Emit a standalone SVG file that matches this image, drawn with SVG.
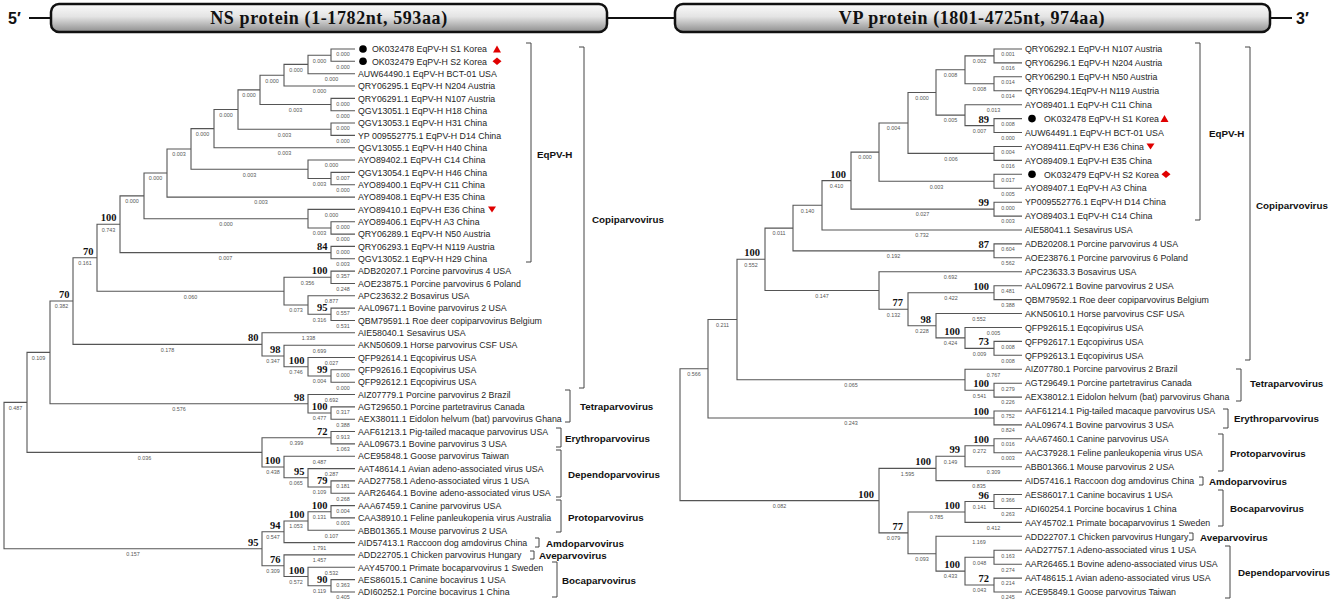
<svg xmlns="http://www.w3.org/2000/svg" width="1333" height="606" viewBox="0 0 1333 606">
<defs>
<linearGradient id="barg" x1="0" y1="0" x2="0" y2="1">
<stop offset="0" stop-color="#fbfbfb"/><stop offset="0.45" stop-color="#e4e4e4"/><stop offset="1" stop-color="#8e8e8e"/>
</linearGradient>
<style>
.br{fill:none;stroke:#555;stroke-width:1.1}
.bk{fill:none;stroke:#444;stroke-width:1}
.lf{font-family:"Liberation Sans",Arial,sans-serif;font-size:8.8px;fill:#262626}
.bl{font-family:"Liberation Sans",Arial,sans-serif;font-size:5.4px;fill:#555;text-anchor:middle}
.bs{font-family:"Liberation Serif","Times New Roman",serif;font-size:10.5px;font-weight:bold;fill:#111;text-anchor:end}
.cl{font-family:"Liberation Sans",Arial,sans-serif;font-size:9.8px;font-weight:bold;fill:#111}
.hd{font-family:"Liberation Serif","Times New Roman",serif;font-size:18px;font-weight:bold;letter-spacing:0.6px;text-anchor:middle;fill:#111}
.pr{font-family:"Liberation Sans",Arial,sans-serif;font-size:16px;font-weight:bold;fill:#111}
.bar{fill:url(#barg);stroke:#111;stroke-width:2.5}
.hl{fill:none;stroke:#111;stroke-width:2}
.mk{fill:#e00000}
.dot{fill:#000}
</style>
</defs>
<rect width="1333" height="606" fill="#fff"/>

<g id="header">
<text class="pr" x="8" y="24">5′</text>
<path class="hl" d="M29 18H51M607 18H675M1270 18H1292"/>
<rect class="bar" x="51" y="4" width="556" height="28" rx="8"/>
<text class="hd" x="329" y="24">NS protein (1-1782nt, 593aa)</text>
<rect class="bar" x="675" y="4" width="595" height="28" rx="8"/>
<text class="hd" x="972" y="24">VP protein (1801-4725nt, 974aa)</text>
<text class="pr" x="1296" y="24">3′</text>
</g>

<g id="connectors">
<path class="br" d="M355 49H331V61.3H355M331 55.2H308V73.7H355M308 64.4H284V86H355M355 98.4H331V110.7H355M284 75.2H260V104.5H331M355 123H331V135.4H355M260 89.9H238V129.2H331M238 109.5H214V147.7H355M355 172.4H331V184.7H355M355 160H308V178.5H331M214 128.6H191V169.3H308M191 149H167V197.1H355M355 221.8H331V234.1H355M355 209.4H308V228H331M167 173H144V218.7H308M355 246.4H331V258.8H355M144 195.9H120V252.6H331M355 271.1H331V283.5H355M355 308.1H331V320.5H355M355 295.8H308V314.3H331M331 277.3H284V305H308M120 224.2H97V291.2H284M355 369.8H331V382.2H355M355 357.5H308V376H331M355 345.2H284V366.8H308M355 332.8H262V356H284M97 257.7H73V344.4H262M355 406.9H331V419.2H355M355 394.5H308V413H331M73 301H50V403.8H308M355 431.5H331V443.9H355M355 480.9H331V493.2H355M355 468.6H308V487H331M355 456.2H284V477.8H308M331 437.7H262V467H284M50 352.4H27V452.4H262M355 505.6H331V517.9H355M331 511.8H308V530.3H355M308 521H284V542.6H355M355 579.6H331V592H355M355 567.3H308V585.8H331M355 554.9H284V576.5H308M284 531.8H262V565.7H284M27 402.4H4V548.7H262"/>
<path class="br" d="M1022 49H994V62.9H1022M1022 76.8H994V90.8H1022M994 55.9H965V83.8H994M1022 118.6H994V132.5H1022M1022 104.7H965V125.6H994M965 69.8H936V115.1H965M1022 146.5H994V160.4H1022M936 92.5H908V153.4H994M1022 174.3H994V188.2H1022M908 123H879V181.3H994M1022 202.2H994V216.1H1022M879 152.1H851V209.1H994M851 180.6H822V230H1022M1022 243.9H994V257.8H1022M822 205.3H793V250.9H994M1022 285.7H994V299.6H1022M1022 341.4H994V355.3H1022M1022 327.5H965V348.4H994M1022 313.5H936V337.9H965M994 292.7H908V325.7H936M1022 271.8H879V309.2H908M793 228.1H765V290.5H879M1022 383.2H994V397.1H1022M1022 369.2H965V390.2H994M765 259.3H737V379.7H965M1022 411H994V424.9H1022M737 319.5H708V418H994M1022 438.8H994V452.8H1022M994 445.8H965V466.7H1022M965 456.2H936V480.6H1022M1022 494.5H994V508.5H1022M994 501.5H965V522.4H1022M1022 550.2H994V564.2H1022M1022 578.1H994V592H1022M994 557.2H965V585H994M1022 536.3H936V571.1H965M965 512H908V553.7H936M936 468.4H879V532.9H908M708 368.7H680V500.6H879"/>
</g>

<g id="ns-branch-labels">
<text class="bl" x="319.5" y="62.5">0.000</text>
<text class="bl" x="296" y="71.7">0.000</text>
<text class="bl" x="272" y="82.5">0.000</text>
<text class="bl" x="295.5" y="111.8">0.003</text>
<text class="bl" x="249" y="97.2">0.000</text>
<text class="bl" x="284.5" y="136.5">0.003</text>
<text class="bl" x="226" y="116.8">0.000</text>
<text class="bl" x="202.5" y="135.9">0.000</text>
<text class="bl" x="319.5" y="185.8">0.003</text>
<text class="bl" x="249.5" y="176.6">0.003</text>
<text class="bl" x="179" y="156.3">0.003</text>
<text class="bl" x="155.5" y="180.3">0.000</text>
<text class="bl" x="319.5" y="235.3">0.003</text>
<text class="bl" x="226" y="226">0.000</text>
<text class="bl" x="132" y="203.2">0.000</text>
<text class="bl" x="225.5" y="259.9">0.007</text>
<text class="bl" x="108.5" y="231.5">0.743</text>
<text class="bl" x="307.5" y="284.6">0.356</text>
<text class="bl" x="319.5" y="321.6">0.316</text>
<text class="bl" x="296" y="312.3">0.073</text>
<text class="bl" x="190.5" y="298.5">0.060</text>
<text class="bl" x="85" y="265">0.161</text>
<text class="bl" x="319.5" y="383.3">0.004</text>
<text class="bl" x="296" y="374.1">0.746</text>
<text class="bl" x="273" y="363.3">0.347</text>
<text class="bl" x="167.5" y="351.7">0.178</text>
<text class="bl" x="61.5" y="308.3">0.382</text>
<text class="bl" x="319.5" y="420.3">0.477</text>
<text class="bl" x="179" y="411.1">0.576</text>
<text class="bl" x="38.5" y="359.7">0.109</text>
<text class="bl" x="296.5" y="445">0.399</text>
<text class="bl" x="319.5" y="494.3">0.109</text>
<text class="bl" x="296" y="485.1">0.065</text>
<text class="bl" x="273" y="474.3">0.438</text>
<text class="bl" x="144.5" y="459.7">0.036</text>
<text class="bl" x="15.5" y="409.7">0.487</text>
<text class="bl" x="319.5" y="519.1">0.131</text>
<text class="bl" x="296" y="528.3">1.053</text>
<text class="bl" x="273" y="539.1">0.547</text>
<text class="bl" x="319.5" y="593.1">0.119</text>
<text class="bl" x="296" y="583.8">0.572</text>
<text class="bl" x="273" y="573">0.309</text>
<text class="bl" x="133" y="556">0.157</text>
<text class="bl" x="343" y="56.3">0.000</text>
<text class="bl" x="343" y="68.6">0.000</text>
<text class="bl" x="331.5" y="81">0.000</text>
<text class="bl" x="319.5" y="93.3">0.000</text>
<text class="bl" x="343" y="105.7">0.000</text>
<text class="bl" x="343" y="118">0.000</text>
<text class="bl" x="343" y="130.3">0.000</text>
<text class="bl" x="343" y="142.7">0.000</text>
<text class="bl" x="284.5" y="155">0.003</text>
<text class="bl" x="331.5" y="167.3">0.000</text>
<text class="bl" x="343" y="179.7">0.007</text>
<text class="bl" x="343" y="192">0.000</text>
<text class="bl" x="261" y="204.4">0.003</text>
<text class="bl" x="331.5" y="216.7">0.000</text>
<text class="bl" x="343" y="229.1">0.000</text>
<text class="bl" x="343" y="241.4">0.000</text>
<text class="bl" x="343" y="253.7">0.000</text>
<text class="bl" x="343" y="266.1">0.003</text>
<text class="bl" x="343" y="278.4">0.357</text>
<text class="bl" x="343" y="290.8">0.248</text>
<text class="bl" x="331.5" y="303.1">0.877</text>
<text class="bl" x="343" y="315.4">0.557</text>
<text class="bl" x="343" y="327.8">0.531</text>
<text class="bl" x="308.5" y="340.1">1.338</text>
<text class="bl" x="319.5" y="352.5">0.699</text>
<text class="bl" x="331.5" y="364.8">0.027</text>
<text class="bl" x="343" y="377.1">0.000</text>
<text class="bl" x="343" y="389.5">0.000</text>
<text class="bl" x="331.5" y="401.8">0.692</text>
<text class="bl" x="343" y="414.2">0.317</text>
<text class="bl" x="343" y="426.5">0.388</text>
<text class="bl" x="343" y="438.8">0.913</text>
<text class="bl" x="343" y="451.2">1.063</text>
<text class="bl" x="319.5" y="463.5">0.487</text>
<text class="bl" x="331.5" y="475.9">0.287</text>
<text class="bl" x="343" y="488.2">0.181</text>
<text class="bl" x="343" y="500.5">0.268</text>
<text class="bl" x="343" y="512.9">0.004</text>
<text class="bl" x="343" y="525.2">0.003</text>
<text class="bl" x="331.5" y="537.6">0.107</text>
<text class="bl" x="319.5" y="549.9">1.791</text>
<text class="bl" x="319.5" y="562.2">1.457</text>
<text class="bl" x="331.5" y="574.6">0.532</text>
<text class="bl" x="343" y="586.9">0.363</text>
<text class="bl" x="343" y="599.3">0.405</text>
</g>

<g id="ns-bootstrap">
<text class="bs" x="327.5" y="249.6">84</text>
<text class="bs" x="116.5" y="221.2">100</text>
<text class="bs" x="327.5" y="274.3">100</text>
<text class="bs" x="327.5" y="311.3">95</text>
<text class="bs" x="93.5" y="254.7">70</text>
<text class="bs" x="327.5" y="373">99</text>
<text class="bs" x="304.5" y="363.8">100</text>
<text class="bs" x="280.5" y="353">98</text>
<text class="bs" x="258.5" y="341.4">80</text>
<text class="bs" x="69.5" y="298">70</text>
<text class="bs" x="327.5" y="410">100</text>
<text class="bs" x="304.5" y="400.8">98</text>
<text class="bs" x="327.5" y="434.7">72</text>
<text class="bs" x="327.5" y="484">79</text>
<text class="bs" x="304.5" y="474.8">95</text>
<text class="bs" x="280.5" y="464">100</text>
<text class="bs" x="327.5" y="508.8">100</text>
<text class="bs" x="304.5" y="518">100</text>
<text class="bs" x="280.5" y="528.8">94</text>
<text class="bs" x="327.5" y="582.8">90</text>
<text class="bs" x="304.5" y="573.5">100</text>
<text class="bs" x="280.5" y="562.7">76</text>
<text class="bs" x="258.5" y="545.7">95</text>
</g>

<g id="vp-branch-labels">
<text class="bl" x="979.5" y="63.2">0.002</text>
<text class="bl" x="979.5" y="91.1">0.008</text>
<text class="bl" x="950.5" y="77.1">0.008</text>
<text class="bl" x="979.5" y="132.9">0.007</text>
<text class="bl" x="950.5" y="122.4">0.005</text>
<text class="bl" x="922" y="99.8">0.000</text>
<text class="bl" x="951" y="160.7">0.006</text>
<text class="bl" x="893.5" y="130.3">0.004</text>
<text class="bl" x="936.5" y="188.6">0.003</text>
<text class="bl" x="865" y="159.4">0.000</text>
<text class="bl" x="922.5" y="216.4">0.027</text>
<text class="bl" x="836.5" y="187.9">0.410</text>
<text class="bl" x="807.5" y="212.6">0.140</text>
<text class="bl" x="893.5" y="258.2">0.192</text>
<text class="bl" x="779" y="235.4">0.011</text>
<text class="bl" x="951" y="300">0.422</text>
<text class="bl" x="979.5" y="355.7">0.009</text>
<text class="bl" x="950.5" y="345.2">0.424</text>
<text class="bl" x="922" y="333">0.228</text>
<text class="bl" x="893.5" y="316.5">0.132</text>
<text class="bl" x="822" y="297.8">0.147</text>
<text class="bl" x="751" y="266.6">0.552</text>
<text class="bl" x="979.5" y="397.5">0.541</text>
<text class="bl" x="851" y="387">0.065</text>
<text class="bl" x="722.5" y="326.8">0.211</text>
<text class="bl" x="851" y="425.3">0.243</text>
<text class="bl" x="694" y="376">0.566</text>
<text class="bl" x="979.5" y="453.1">0.272</text>
<text class="bl" x="950.5" y="463.5">0.149</text>
<text class="bl" x="907.5" y="475.7">1.595</text>
<text class="bl" x="979.5" y="508.8">0.141</text>
<text class="bl" x="936.5" y="519.3">0.785</text>
<text class="bl" x="979.5" y="564.5">0.048</text>
<text class="bl" x="979.5" y="592.3">0.043</text>
<text class="bl" x="950.5" y="578.4">0.433</text>
<text class="bl" x="922" y="561">0.093</text>
<text class="bl" x="893.5" y="540.2">0.079</text>
<text class="bl" x="779.5" y="507.9">0.082</text>
<text class="bl" x="1008" y="56.3">0.001</text>
<text class="bl" x="1008" y="70.2">0.016</text>
<text class="bl" x="1008" y="84.1">0.014</text>
<text class="bl" x="1008" y="98.1">0.014</text>
<text class="bl" x="993.5" y="112">0.013</text>
<text class="bl" x="1008" y="125.9">0.008</text>
<text class="bl" x="1008" y="139.8">0.000</text>
<text class="bl" x="1008" y="153.8">0.004</text>
<text class="bl" x="1008" y="167.7">0.016</text>
<text class="bl" x="1008" y="181.6">0.017</text>
<text class="bl" x="1008" y="195.5">0.005</text>
<text class="bl" x="1008" y="209.5">0.000</text>
<text class="bl" x="1008" y="223.4">0.003</text>
<text class="bl" x="922" y="237.3">0.732</text>
<text class="bl" x="1008" y="251.2">0.604</text>
<text class="bl" x="1008" y="265.1">0.562</text>
<text class="bl" x="950.5" y="279.1">0.692</text>
<text class="bl" x="1008" y="293">0.481</text>
<text class="bl" x="1008" y="306.9">0.388</text>
<text class="bl" x="979" y="320.8">0.552</text>
<text class="bl" x="993.5" y="334.8">0.005</text>
<text class="bl" x="1008" y="348.7">0.008</text>
<text class="bl" x="1008" y="362.6">0.008</text>
<text class="bl" x="993.5" y="376.5">0.767</text>
<text class="bl" x="1008" y="390.5">0.279</text>
<text class="bl" x="1008" y="404.4">0.226</text>
<text class="bl" x="1008" y="418.3">0.752</text>
<text class="bl" x="1008" y="432.2">0.824</text>
<text class="bl" x="1008" y="446.1">0.016</text>
<text class="bl" x="1008" y="460.1">0.003</text>
<text class="bl" x="993.5" y="474">0.309</text>
<text class="bl" x="979" y="487.9">0.835</text>
<text class="bl" x="1008" y="501.8">0.366</text>
<text class="bl" x="1008" y="515.8">0.263</text>
<text class="bl" x="993.5" y="529.7">0.412</text>
<text class="bl" x="979" y="543.6">1.169</text>
<text class="bl" x="1008" y="557.5">0.163</text>
<text class="bl" x="1008" y="571.5">0.274</text>
<text class="bl" x="1008" y="585.4">0.214</text>
<text class="bl" x="1008" y="599.3">0.245</text>
</g>

<g id="vp-bootstrap">
<text class="bs" x="989" y="122.6">89</text>
<text class="bs" x="989" y="206.1">99</text>
<text class="bs" x="846" y="177.6">100</text>
<text class="bs" x="989" y="247.9">87</text>
<text class="bs" x="989" y="289.7">100</text>
<text class="bs" x="989" y="345.4">73</text>
<text class="bs" x="960" y="334.9">100</text>
<text class="bs" x="931" y="322.7">98</text>
<text class="bs" x="903" y="306.2">77</text>
<text class="bs" x="760" y="256.3">100</text>
<text class="bs" x="989" y="387.2">100</text>
<text class="bs" x="989" y="415">100</text>
<text class="bs" x="989" y="442.8">100</text>
<text class="bs" x="960" y="453.2">99</text>
<text class="bs" x="931" y="465.4">100</text>
<text class="bs" x="989" y="498.5">96</text>
<text class="bs" x="960" y="509">100</text>
<text class="bs" x="989" y="582">72</text>
<text class="bs" x="960" y="568.1">100</text>
<text class="bs" x="903" y="529.9">77</text>
<text class="bs" x="874" y="497.6">100</text>
</g>

<g id="ns-OK032478"><circle class="dot" cx="363" cy="49" r="3.8"/><text class="lf" x="372" y="52.2">OK032478 EqPV-H S1 Korea</text><polygon class="mk" points="493,52.5 501,52.5 497,45.5"/></g>
<g id="ns-OK032479"><circle class="dot" cx="363" cy="61.3" r="3.8"/><text class="lf" x="372" y="64.5">OK032479 EqPV-H S2 Korea</text><polygon class="mk" points="497,57.6 501.5,61.3 497,65 492.5,61.3"/></g>
<g id="ns-AUW64490"><text class="lf" x="358" y="76.9">AUW64490.1 EqPV-H BCT-01 USA</text></g>
<g id="ns-QRY06295"><text class="lf" x="358" y="89.2">QRY06295.1 EqPV-H N204 Austria</text></g>
<g id="ns-QRY06291"><text class="lf" x="358" y="101.6">QRY06291.1 EqPV-H N107 Austria</text></g>
<g id="ns-QGV13051"><text class="lf" x="358" y="113.9">QGV13051.1 EqPV-H H18 China</text></g>
<g id="ns-QGV13053"><text class="lf" x="358" y="126.2">QGV13053.1 EqPV-H H31 China</text></g>
<g id="ns-YP009552775"><text class="lf" x="358" y="138.6">YP 009552775.1 EqPV-H D14 China</text></g>
<g id="ns-QGV13055"><text class="lf" x="358" y="150.9">QGV13055.1 EqPV-H H40 China</text></g>
<g id="ns-AYO89402"><text class="lf" x="358" y="163.2">AYO89402.1 EqPV-H C14 China</text></g>
<g id="ns-QGV13054"><text class="lf" x="358" y="175.6">QGV13054.1 EqPV-H H46 China</text></g>
<g id="ns-AYO89400"><text class="lf" x="358" y="187.9">AYO89400.1 EqPV-H C11 China</text></g>
<g id="ns-AYO89408"><text class="lf" x="358" y="200.3">AYO89408.1 EqPV-H E35 China</text></g>
<g id="ns-AYO89410"><text class="lf" x="358" y="212.6">AYO89410.1 EqPV-H E36 China</text><polygon class="mk" points="488,206.5 496,206.5 492,212.5"/></g>
<g id="ns-AYO89406"><text class="lf" x="358" y="225">AYO89406.1 EqPV-H A3 China</text></g>
<g id="ns-QRY06289"><text class="lf" x="358" y="237.3">QRY06289.1 EqPV-H N50 Austria</text></g>
<g id="ns-QRY06293"><text class="lf" x="358" y="249.6">QRY06293.1 EqPV-H N119 Austria</text></g>
<g id="ns-QGV13052"><text class="lf" x="358" y="262">QGV13052.1 EqPV-H H29 China</text></g>
<g id="ns-ADB20207"><text class="lf" x="358" y="274.3">ADB20207.1 Porcine parvovirus 4 USA</text></g>
<g id="ns-AOE23875"><text class="lf" x="358" y="286.7">AOE23875.1 Porcine parvovirus 6 Poland</text></g>
<g id="ns-APC23632"><text class="lf" x="358" y="299">APC23632.2 Bosavirus USA</text></g>
<g id="ns-AAL09671"><text class="lf" x="358" y="311.3">AAL09671.1 Bovine parvovirus 2 USA</text></g>
<g id="ns-QBM79591"><text class="lf" x="358" y="323.7">QBM79591.1 Roe deer copiparvovirus Belgium</text></g>
<g id="ns-AIE58040"><text class="lf" x="358" y="336">AIE58040.1 Sesavirus USA</text></g>
<g id="ns-AKN50609"><text class="lf" x="358" y="348.4">AKN50609.1 Horse parvovirus CSF USA</text></g>
<g id="ns-QFP92614"><text class="lf" x="358" y="360.7">QFP92614.1 Eqcopivirus USA</text></g>
<g id="ns-QFP92616"><text class="lf" x="358" y="373">QFP92616.1 Eqcopivirus USA</text></g>
<g id="ns-QFP92612"><text class="lf" x="358" y="385.4">QFP92612.1 Eqcopivirus USA</text></g>
<g id="ns-AIZ07779"><text class="lf" x="358" y="397.7">AIZ07779.1 Porcine parvovirus 2 Brazil</text></g>
<g id="ns-AGT29650"><text class="lf" x="358" y="410.1">AGT29650.1 Porcine partetravirus Canada</text></g>
<g id="ns-AEX38011"><text class="lf" x="358" y="422.4">AEX38011.1 Eidolon helvum (bat) parvovirus Ghana</text></g>
<g id="ns-AAF61213"><text class="lf" x="358" y="434.7">AAF61213.1 Pig-tailed macaque parvovirus USA</text></g>
<g id="ns-AAL09673"><text class="lf" x="358" y="447.1">AAL09673.1 Bovine parvovirus 3 USA</text></g>
<g id="ns-ACE95848"><text class="lf" x="358" y="459.4">ACE95848.1 Goose parvovirus Taiwan</text></g>
<g id="ns-AAT48614"><text class="lf" x="358" y="471.8">AAT48614.1 Avian adeno-associated virus USA</text></g>
<g id="ns-AAD27758"><text class="lf" x="358" y="484.1">AAD27758.1 Adeno-associated virus 1 USA</text></g>
<g id="ns-AAR26464"><text class="lf" x="358" y="496.4">AAR26464.1 Bovine adeno-associated virus USA</text></g>
<g id="ns-AAA67459"><text class="lf" x="358" y="508.8">AAA67459.1 Canine parvovirus USA</text></g>
<g id="ns-CAA38910"><text class="lf" x="358" y="521.1">CAA38910.1 Feline panleukopenia virus Australia</text></g>
<g id="ns-ABB01365"><text class="lf" x="358" y="533.5">ABB01365.1 Mouse parvovirus 2 USA</text></g>
<g id="ns-AID57413"><text class="lf" x="358" y="545.8">AID57413.1 Raccoon dog amdovirus China</text></g>
<g id="ns-ADD22705"><text class="lf" x="358" y="558.1">ADD22705.1 Chicken parvovirus Hungary</text></g>
<g id="ns-AAY45700"><text class="lf" x="358" y="570.5">AAY45700.1 Primate bocaparvovirus 1 Sweden</text></g>
<g id="ns-AES86015"><text class="lf" x="358" y="582.8">AES86015.1 Canine bocavirus 1 USA</text></g>
<g id="ns-ADI60252"><text class="lf" x="358" y="595.2">ADI60252.1 Porcine bocavirus 1 China</text></g>

<g id="vp-QRY06292"><text class="lf" x="1025" y="52.2">QRY06292.1 EqPV-H N107 Austria</text></g>
<g id="vp-QRY06296"><text class="lf" x="1025" y="66.1">QRY06296.1 EqPV-H N204 Austria</text></g>
<g id="vp-QRY06290"><text class="lf" x="1025" y="80">QRY06290.1 EqPV-H N50 Austria</text></g>
<g id="vp-QRY06294"><text class="lf" x="1025" y="94">QRY06294.1EqPV-H N119 Austria</text></g>
<g id="vp-AYO89401"><text class="lf" x="1025" y="107.9">AYO89401.1 EqPV-H C11 China</text></g>
<g id="vp-OK032478"><circle class="dot" cx="1032" cy="118.6" r="3.8"/><text class="lf" x="1044" y="121.8">OK032478 EqPV-H S1 Korea</text><polygon class="mk" points="1160.5,122 1168.5,122 1164.5,115"/></g>
<g id="vp-AUW64491"><text class="lf" x="1025" y="135.7">AUW64491.1 EqPV-H BCT-01 USA</text></g>
<g id="vp-AYO89411"><text class="lf" x="1025" y="149.7">AYO89411.EqPV-H E36 China</text><polygon class="mk" points="1146.5,143.5 1154.5,143.5 1150.5,149.5"/></g>
<g id="vp-AYO89409"><text class="lf" x="1025" y="163.6">AYO89409.1 EqPV-H E35 China</text></g>
<g id="vp-OK032479"><circle class="dot" cx="1032" cy="174.3" r="3.8"/><text class="lf" x="1044" y="177.5">OK032479 EqPV-H S2 Korea</text><polygon class="mk" points="1166,170.6 1170.5,174.3 1166,178 1161.5,174.3"/></g>
<g id="vp-AYO89407"><text class="lf" x="1025" y="191.4">AYO89407.1 EqPV-H A3 China</text></g>
<g id="vp-YP009552776"><text class="lf" x="1025" y="205.4">YP009552776.1 EqPV-H D14 China</text></g>
<g id="vp-AYO89403"><text class="lf" x="1025" y="219.3">AYO89403.1 EqPV-H C14 China</text></g>
<g id="vp-AIE58041"><text class="lf" x="1025" y="233.2">AIE58041.1 Sesavirus USA</text></g>
<g id="vp-ADB20208"><text class="lf" x="1025" y="247.1">ADB20208.1 Porcine parvovirus 4 USA</text></g>
<g id="vp-AOE23876"><text class="lf" x="1025" y="261">AOE23876.1 Porcine parvovirus 6 Poland</text></g>
<g id="vp-APC23633"><text class="lf" x="1025" y="275">APC23633.3 Bosavirus USA</text></g>
<g id="vp-AAL09672"><text class="lf" x="1025" y="288.9">AAL09672.1 Bovine parvovirus 2 USA</text></g>
<g id="vp-QBM79592"><text class="lf" x="1025" y="302.8">QBM79592.1 Roe deer copiparvovirus Belgium</text></g>
<g id="vp-AKN50610"><text class="lf" x="1025" y="316.7">AKN50610.1 Horse parvovirus CSF USA</text></g>
<g id="vp-QFP92615"><text class="lf" x="1025" y="330.7">QFP92615.1 Eqcopivirus USA</text></g>
<g id="vp-QFP92617"><text class="lf" x="1025" y="344.6">QFP92617.1 Eqcopivirus USA</text></g>
<g id="vp-QFP92613"><text class="lf" x="1025" y="358.5">QFP92613.1 Eqcopivirus USA</text></g>
<g id="vp-AIZ07780"><text class="lf" x="1025" y="372.4">AIZ07780.1 Porcine parvovirus 2 Brazil</text></g>
<g id="vp-AGT29649"><text class="lf" x="1025" y="386.4">AGT29649.1 Porcine partetravirus Canada</text></g>
<g id="vp-AEX38012"><text class="lf" x="1025" y="400.3">AEX38012.1 Eidolon helvum (bat) parvovirus Ghana</text></g>
<g id="vp-AAF61214"><text class="lf" x="1025" y="414.2">AAF61214.1 Pig-tailed macaque parvovirus USA</text></g>
<g id="vp-AAL09674"><text class="lf" x="1025" y="428.1">AAL09674.1 Bovine parvovirus 3 USA</text></g>
<g id="vp-AAA67460"><text class="lf" x="1025" y="442">AAA67460.1 Canine parvovirus USA</text></g>
<g id="vp-AAC37928"><text class="lf" x="1025" y="456">AAC37928.1 Feline panleukopenia virus USA</text></g>
<g id="vp-ABB01366"><text class="lf" x="1025" y="469.9">ABB01366.1 Mouse parvovirus 2 USA</text></g>
<g id="vp-AID57416"><text class="lf" x="1025" y="483.8">AID57416.1 Raccoon dog amdovirus China</text></g>
<g id="vp-AES86017"><text class="lf" x="1025" y="497.7">AES86017.1 Canine bocavirus 1 USA</text></g>
<g id="vp-ADI60254"><text class="lf" x="1025" y="511.7">ADI60254.1 Porcine bocavirus 1 China</text></g>
<g id="vp-AAY45702"><text class="lf" x="1025" y="525.6">AAY45702.1 Primate bocaparvovirus 1 Sweden</text></g>
<g id="vp-ADD22707"><text class="lf" x="1025" y="539.5">ADD22707.1 Chicken parvovirus Hungary</text></g>
<g id="vp-AAD27757"><text class="lf" x="1025" y="553.4">AAD27757.1 Adeno-associated virus 1 USA</text></g>
<g id="vp-AAR26465"><text class="lf" x="1025" y="567.4">AAR26465.1 Bovine adeno-associated virus USA</text></g>
<g id="vp-AAT48615"><text class="lf" x="1025" y="581.3">AAT48615.1 Avian adeno-associated virus USA</text></g>
<g id="vp-ACE95849"><text class="lf" x="1025" y="595.2">ACE95849.1 Goose parvovirus Taiwan</text></g>

<g id="ns-clades">
<path class="bk" d="M526 43H531V262H526M579 47H584V388H579M565 390H570V422H565M556 428H561V447H556M556 450H561V497H556M556 500H561V532H556M535 538H539V547H535M530 551H534V559H530M552 562H557V597H552"/>
<text class="cl" x="537" y="157.5">EqPV-H</text>
<text class="cl" x="592" y="222.5">Copiparvovirus</text>
<text class="cl" x="580" y="409.5">Tetraparvovirus</text>
<text class="cl" x="565" y="441.5">Erythroparvovirus</text>
<text class="cl" x="568" y="477.5">Dependoparvovirus</text>
<text class="cl" x="568" y="520.5">Protoparvovirus</text>
<text class="cl" x="546" y="546.5">Amdoparvovirus</text>
<text class="cl" x="539" y="558.5">Aveparvovirus</text>
<text class="cl" x="562" y="583.5">Bocaparvovirus</text>
</g>

<g id="vp-clades">
<path class="bk" d="M1195 43H1200V220H1195M1245 47H1250V360H1245M1236 369H1241V401H1236M1223 409H1228V428H1223M1218 434H1223V471H1218M1199 477H1203V485H1199M1218 490H1223V526H1218M1189 533H1193V540H1189M1225 546H1230V598H1225"/>
<text class="cl" x="1209" y="136.5">EqPV-H</text>
<text class="cl" x="1256" y="208.5">Copiparvovirus</text>
<text class="cl" x="1250" y="386.5">Tetraparvovirus</text>
<text class="cl" x="1234" y="421.5">Erythroparvovirus</text>
<text class="cl" x="1230" y="456.5">Protoparvovirus</text>
<text class="cl" x="1209" y="484.5">Amdoparvovirus</text>
<text class="cl" x="1230" y="511.5">Bocaparvovirus</text>
<text class="cl" x="1200" y="540.5">Aveparvovirus</text>
<text class="cl" x="1238" y="575.5">Dependoparvovirus</text>
</g>
</svg>
